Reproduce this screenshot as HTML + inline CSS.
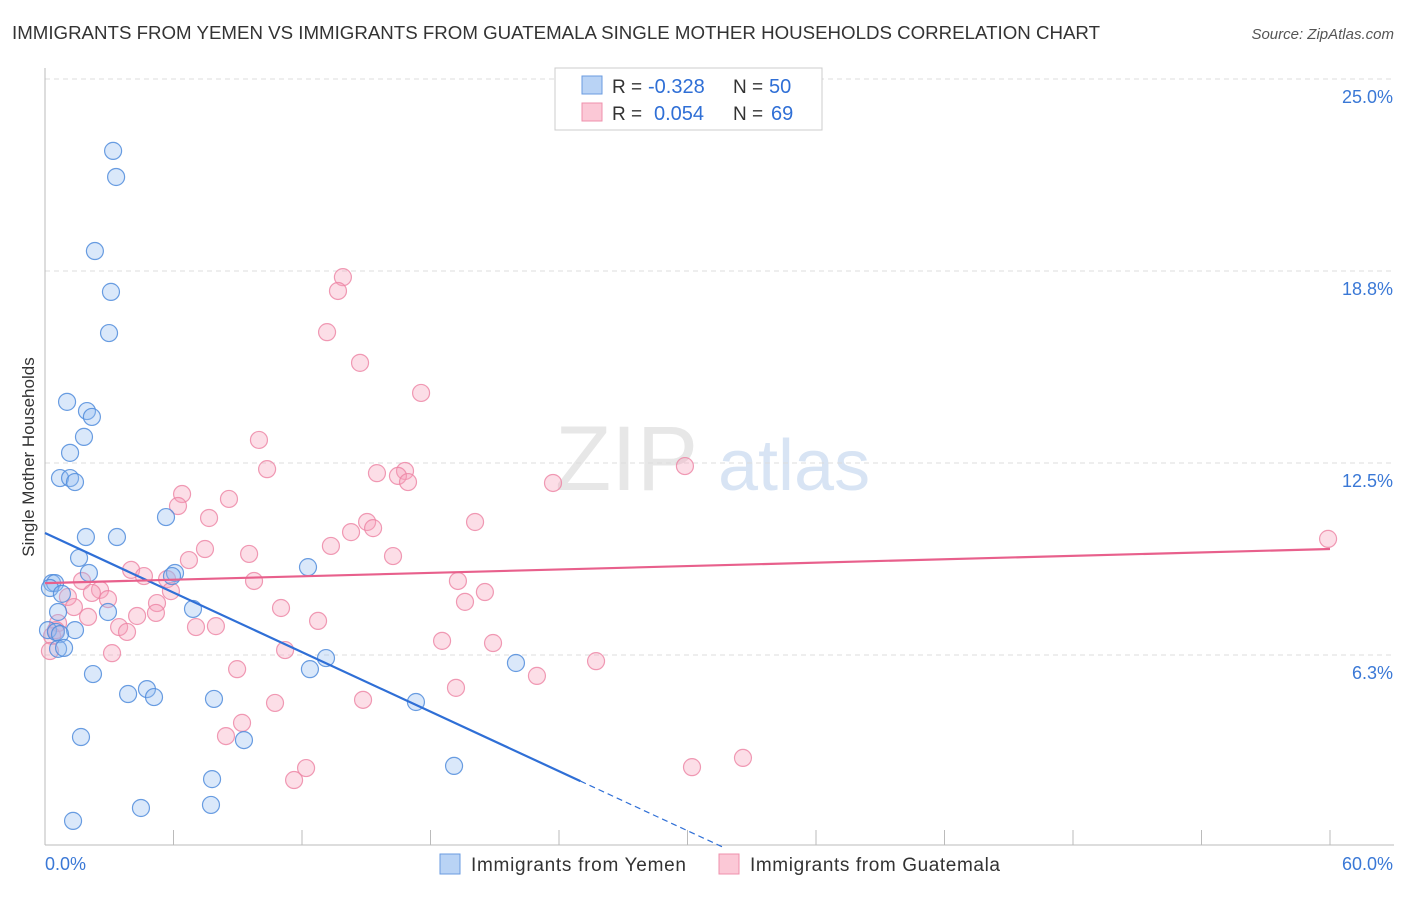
<!DOCTYPE html>
<html><head><meta charset="utf-8"><style>
body{margin:0;background:#fff;font-family:"Liberation Sans",sans-serif;}
svg text{font-family:"Liberation Sans",sans-serif;}
</style></head><body>
<svg id="chart" width="1406" height="892" xmlns="http://www.w3.org/2000/svg">
<text x="12" y="39" font-size="18" fill="#333" textLength="1088" lengthAdjust="spacingAndGlyphs">IMMIGRANTS FROM YEMEN VS IMMIGRANTS FROM GUATEMALA SINGLE MOTHER HOUSEHOLDS CORRELATION CHART</text>
<text x="1394" y="39" font-size="15" fill="#555" text-anchor="end" font-style="italic">Source: ZipAtlas.com</text>
<g><text x="555" y="490" font-size="92" fill="#ddd" font-family="Liberation Serif" opacity="0.7">ZIP</text><text x="718" y="490" font-size="72" fill="#c8daf0" opacity="0.7">atlas</text></g>
<g id="grid"></g><g id="axes"></g><g id="pts"></g><g id="lines"></g>
<text transform="translate(34,457) rotate(-90)" font-size="17" fill="#333" text-anchor="middle">Single Mother Households</text>
<g>
<rect x="555" y="68" width="267" height="62" fill="#fff" stroke="#ccc"/>
<rect x="582" y="76" width="20" height="18" fill="#b9d3f5" stroke="#6a9be0"/>
<rect x="582" y="103" width="20" height="18" fill="#fbc8d6" stroke="#ef90ac"/>
<text x="612" y="93" font-size="19" fill="#333">R =</text>
<text x="648" y="93" font-size="20" fill="#2f6fd6">-0.328</text>
<text x="733" y="93" font-size="19" fill="#333">N =</text>
<text x="769" y="93" font-size="20" fill="#2f6fd6">50</text>
<text x="612" y="120" font-size="19" fill="#333">R =</text>
<text x="654" y="120" font-size="20" fill="#2f6fd6">0.054</text>
<text x="733" y="120" font-size="19" fill="#333">N =</text>
<text x="771" y="120" font-size="20" fill="#2f6fd6">69</text>
</g>
<g>
<rect x="440" y="854" width="20" height="20" fill="#b9d3f5" stroke="#6a9be0"/>
<text x="471" y="871" font-size="19" fill="#333" textLength="215">Immigrants from Yemen</text>
<rect x="719" y="854" width="20" height="20" fill="#fbc8d6" stroke="#ef90ac"/>
<text x="750" y="871" font-size="19" fill="#333" textLength="250">Immigrants from Guatemala</text>
</g>
</svg>
<script>
const yemenX=[3.18,3.32,2.33,3.08,2.99,1.03,1.96,2.19,1.82,1.17,0.70,1.17,1.40,5.65,1.91,3.36,1.59,2.05,6.07,5.93,12.28,0.33,0.47,0.23,0.79,2.94,6.91,0.61,0.14,0.51,1.40,0.70,0.61,0.89,2.24,13.12,12.37,21.99,3.88,4.76,5.09,7.89,17.32,1.68,9.29,19.10,7.80,4.48,7.75,1.31];
const yemenY=[22.66,21.81,19.40,18.07,16.73,14.49,14.19,14.00,13.35,12.83,12.01,12.01,11.88,10.74,10.09,10.09,9.41,8.92,8.92,8.82,9.11,8.59,8.59,8.43,8.24,7.65,7.75,7.65,7.06,7.00,7.06,6.93,6.45,6.48,5.63,6.15,5.79,5.99,4.98,5.14,4.88,4.82,4.72,3.58,3.48,2.64,2.21,1.27,1.37,0.85];
const guatX=[13.91,13.68,13.17,14.71,17.56,9.99,10.37,15.50,16.81,16.48,16.95,23.72,29.88,6.40,8.59,6.21,7.66,20.08,15.04,15.32,14.29,13.35,7.47,9.53,16.25,6.72,4.02,4.62,5.70,1.73,19.28,9.76,2.57,2.19,1.07,2.94,5.23,20.54,1.35,19.61,11.02,5.18,4.30,2.01,5.88,7.05,3.46,3.83,12.75,7.98,0.61,0.33,18.54,20.92,0.51,0.23,3.13,11.21,25.73,8.97,22.97,19.19,10.74,14.85,9.20,8.45,32.59,30.21,12.19,11.63,59.91];
const guatY=[18.55,18.10,16.76,15.76,14.78,13.25,12.30,12.17,12.24,12.08,11.88,11.85,12.40,11.49,11.33,11.10,10.71,10.58,10.58,10.38,10.25,9.80,9.70,9.54,9.47,9.34,9.02,8.82,8.72,8.66,8.66,8.66,8.37,8.27,8.14,8.07,7.94,8.30,7.81,7.98,7.78,7.62,7.52,7.49,8.33,7.16,7.16,7.00,7.36,7.19,7.29,6.87,6.71,6.64,7.06,6.38,6.31,6.41,6.05,5.79,5.57,5.18,4.69,4.79,4.04,3.61,2.90,2.60,2.57,2.18,10.03];
const yTicks=[25,18.75,12.5,6.25];
const yTickLabels=["25.0%","18.8%","12.5%","6.3%"];
const xTicks=[0,6,12,18,24,30,36,42,48,54,60];
const yemenFit=[10.22,-0.323];
const guatFit=[8.59,0.0185];
const ns="http://www.w3.org/2000/svg";
const X=v=>45+v*1285/60, Y=v=>847-v*768/25;
function mk(t,a,p){const e=document.createElementNS(ns,t);for(const k in a)e.setAttribute(k,a[k]);p.appendChild(e);return e;}
const grid=document.getElementById('grid'),axes=document.getElementById('axes'),pts=document.getElementById('pts'),lines=document.getElementById('lines');
yTicks.forEach((t,i)=>{const l=mk('line',{x1:45,x2:1394,y1:Y(t),y2:Y(t),stroke:'#ddd','stroke-dasharray':'5,4'},grid);


const tx=mk('text',{x:1393,y:Y(t)+24,'font-size':18,fill:'#3a78d6','text-anchor':'end'},grid);tx.textContent=yTickLabels[i];

});
const ax=mk('line',{x1:45,x2:45,y1:68,y2:845,stroke:'#bbb'},axes);


const bx=mk('line',{x1:45,x2:1394,y1:845,y2:845,stroke:'#bbb'},axes);


xTicks.forEach(t=>{const l=mk('line',{x1:X(t),x2:X(t),y1:830,y2:845,stroke:'#bbb'},axes);

});
const xl0=mk('text',{x:45,y:870,'font-size':18,fill:'#3a78d6'},axes);xl0.textContent='0.0%';


const xl1=mk('text',{x:1393,y:870,'font-size':18,fill:'#3a78d6','text-anchor':'end'},axes);xl1.textContent='60.0%';


guatX.forEach((x,i)=>{const c=mk('circle',{cx:X(x),cy:Y(guatY[i]),r:8.5,fill:'rgba(246,160,186,0.35)',stroke:'rgba(236,130,162,0.8)','stroke-width':1.2},pts);

});
yemenX.forEach((x,i)=>{const c=mk('circle',{cx:X(x),cy:Y(yemenY[i]),r:8.5,fill:'rgba(150,190,240,0.35)',stroke:'rgba(80,140,220,0.85)','stroke-width':1.2},pts);

});
const f=(fit,x)=>fit[0]+fit[1]*x;
const yl=mk('line',{x1:X(0),y1:Y(f(yemenFit,0)),x2:X(25),y2:Y(f(yemenFit,25)),stroke:'#2f6fd6','stroke-width':2.2},lines);


const xz=-yemenFit[0]/yemenFit[1];
const yd=mk('line',{x1:X(25),y1:Y(f(yemenFit,25)),x2:X(xz),y2:Y(0),stroke:'#2f6fd6','stroke-width':1.2,'stroke-dasharray':'6,4'},lines);


const gl=mk('line',{x1:X(0),y1:Y(f(guatFit,0)),x2:X(60),y2:Y(f(guatFit,60)),stroke:'#e8608c','stroke-width':2.2},lines);


</script>
</body></html>
